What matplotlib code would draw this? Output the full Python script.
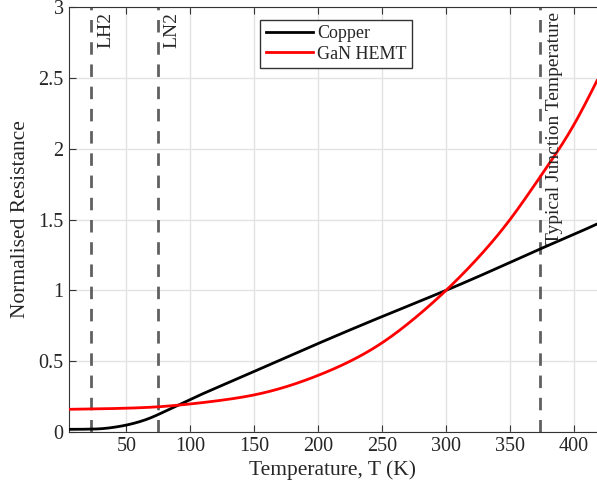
import matplotlib
matplotlib.use("Agg")
import matplotlib.pyplot as plt
import numpy as np

plt.rcParams['font.family'] = ['Liberation Serif', 'DejaVu Serif']

# Copper normalised resistance
cu_T = [4, 10, 20, 30, 40, 50, 60, 70, 80, 90, 100, 125, 150, 175, 200, 250, 300, 350, 373, 400, 418]
cu_R = [0.019, 0.019, 0.020, 0.023, 0.033, 0.049, 0.072, 0.104, 0.145, 0.187, 0.230, 0.330,
        0.428, 0.527, 0.625, 0.815, 1.0, 1.197, 1.290, 1.395, 1.468]

# GaN HEMT normalised resistance
gan_T = [4, 25, 50, 75, 100, 125, 150, 175, 200, 225, 250, 275, 300, 325, 350, 375, 400, 418]
gan_R = [0.160, 0.163, 0.168, 0.178, 0.198, 0.225, 0.262, 0.320, 0.400, 0.500, 0.630, 0.800,
         1.0, 1.230, 1.50, 1.82, 2.17, 2.48]

# Reference temperatures
ref_T = [22.5, 74.5, 373.5]
ref_labels = ['LH2', 'LN2', 'Typical Junction Temperature']

x_ticks = [50, 100, 150, 200, 250, 300, 350, 400]
y_ticks = [0, 0.5, 1, 1.5, 2, 2.5, 3]
y_ticklabels = ['0', '0.5', '1', '1.5', '2', '2.5', '3']


def spline(xs, ys, n=800):
    """Natural cubic spline through the read points."""
    xs = np.asarray(xs, float); ys = np.asarray(ys, float)
    N = len(xs)
    h = np.diff(xs)
    A = np.zeros((N, N)); b = np.zeros(N)
    A[0, 0] = 1; A[-1, -1] = 1
    for i in range(1, N - 1):
        A[i, i - 1] = h[i - 1]
        A[i, i] = 2 * (h[i - 1] + h[i])
        A[i, i + 1] = h[i]
        b[i] = 6 * ((ys[i + 1] - ys[i]) / h[i] - (ys[i] - ys[i - 1]) / h[i - 1])
    M = np.linalg.solve(A, b)
    xx = np.linspace(xs[0], xs[-1], n)
    idx = np.clip(np.searchsorted(xs, xx) - 1, 0, N - 2)
    x0 = xs[idx]; x1 = xs[idx + 1]; hh = h[idx]
    yy = (M[idx] * (x1 - xx) ** 3 / (6 * hh) + M[idx + 1] * (xx - x0) ** 3 / (6 * hh)
          + (ys[idx] / hh - M[idx] * hh / 6) * (x1 - xx)
          + (ys[idx + 1] / hh - M[idx + 1] * hh / 6) * (xx - x0))
    return xx, yy


fig = plt.figure(figsize=(5.97, 4.94), dpi=100)
ax = fig.add_axes([68.5/597, 1-432/494, (597-68.5)/597, (432-7)/494])

x1, y1 = spline(cu_T, cu_R)
x2, y2 = spline(gan_T, gan_R)
ax.plot(x1, y1, color='black', lw=2, label='Copper', zorder=3)
ax.plot(x2, y2, color='red', lw=2, label='GaN HEMT', zorder=3)

for T, lab in zip(ref_T, ref_labels):
    ax.axvline(T, color='#606060', lw=2, ls=(0, (4.5, 3.5)), zorder=2)
    ax.text(T + 4.5, 2.965, lab, rotation=90, va='top', ha='left', fontsize=14, color='#262626')

ax.set_xlim(4.7, 418)
ax.set_ylim(0, 3)
ax.set_xticks(x_ticks)
ax.set_yticks(y_ticks)
ax.set_yticklabels(y_ticklabels)
ax.grid(True, color='#e3e3e3', lw=1)
ax.set_axisbelow(True)
ax.tick_params(direction='in', top=True, right=False, labelsize=14.5, length=5,
               color='#333333', labelcolor='#262626')
for s in ['left', 'top', 'bottom']:
    ax.spines[s].set_color('#333333')
ax.spines['right'].set_visible(False)
ax.set_xlabel('Temperature, T (K)', fontsize=15.5, color='#262626', labelpad=3)
ax.set_ylabel('Normalised Resistance', fontsize=15.5, color='#262626', labelpad=6)

leg = ax.legend(loc='upper left', bbox_to_anchor=(0.363, 0.97), fontsize=13, frameon=True,
                fancybox=False, edgecolor='#333333', framealpha=1, handlelength=2.6,
                borderpad=0.3, labelspacing=0.2, handletextpad=0.25, borderaxespad=0)
leg.get_frame().set_linewidth(1)
for t in leg.get_texts():
    t.set_color('#262626')

fig.savefig('out.png', dpi=100)
